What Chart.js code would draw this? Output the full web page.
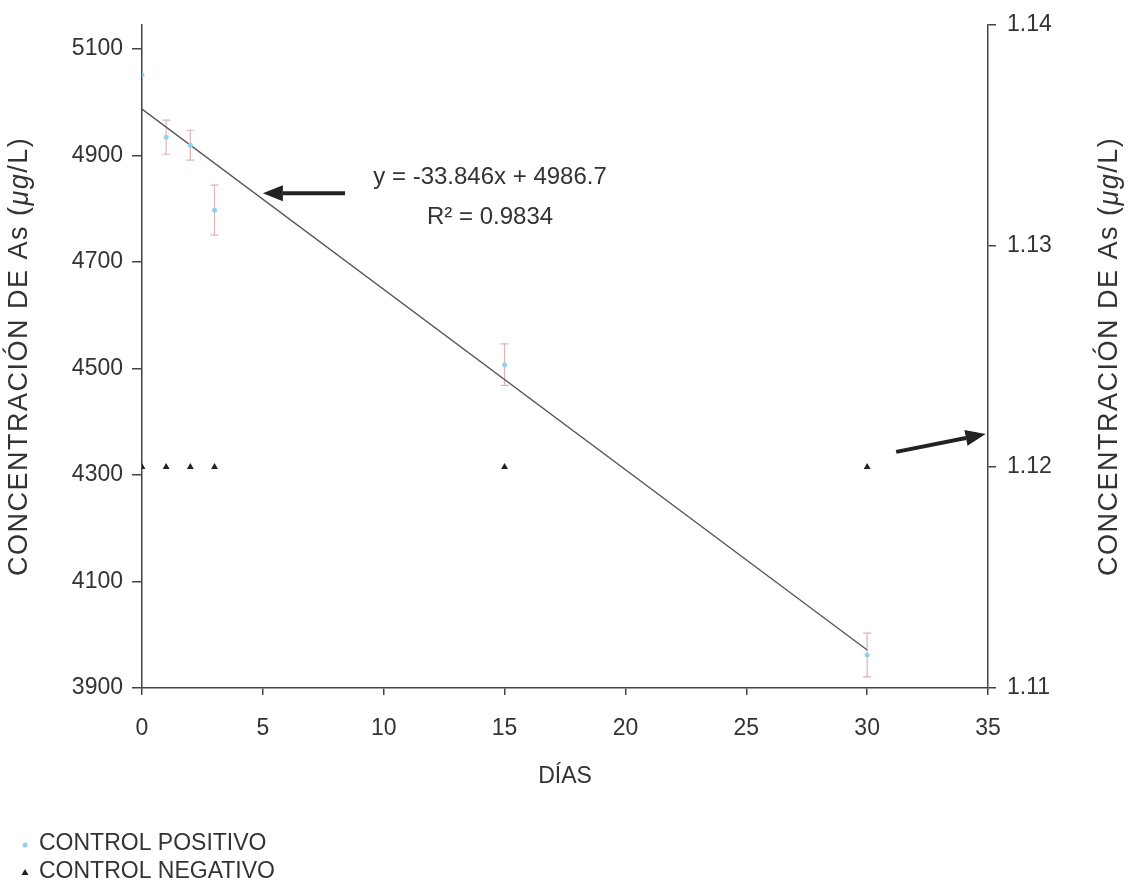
<!DOCTYPE html>
<html>
<head>
<meta charset="utf-8">
<script src="https://cdn.jsdelivr.net/npm/chart.js@4/dist/chart.umd.min.js"></script>
<style>
  html, body { margin: 0; padding: 0; background: #fff; }
  #wrap { width: 1131px; height: 888px; }
</style>
</head>
<body>
<div id="wrap"><canvas id="arsenico" width="1131" height="888"></canvas></div>
<script>
// dias de muestreo
const dias = [0, 1, 2, 3, 15, 30];
// control positivo (ug/L), eje izquierdo
const controlPositivo = [5051, 4934, 4919, 4797, 4507, 3962];
const errorPositivo = [0, 32, 28, 47, 39, 41];
// control negativo (ug/L), eje derecho
const controlNegativo = [1.12, 1.12, 1.12, 1.12, 1.12, 1.12];
// linea de tendencia y = -33.846x + 4986.7
const tendenciaX = [0, 30];
const tendenciaY = [4986.7, 3971.3];
const ecuacion = "y = -33.846x + 4986.7";
const r2 = "R² = 0.9834";

const xTicks = [0, 5, 10, 15, 20, 25, 30, 35];
const yTicks = [3900, 4100, 4300, 4500, 4700, 4900, 5100];
const y2Ticks = [1.11, 1.12, 1.13, 1.14];

const FONT = "'Liberation Sans', Arial, sans-serif";
const TXT = "#333";
const AXIS = "#444";

// flechas y textos, en unidades de datos
const notas = {
  flecha1: { eje: "y", from: [8.4, 4829], to: [5.0, 4829] },
  flecha2: { eje: "y2", from: [31.2, 1.12068], to: [34.9, 1.12149] },
  eq: { x: 14.4, y: 4859 },
  r2: { x: 14.4, y: 4784 },
};

function drawArrow(ctx, x1, y1, x2, y2) {
  const ang = Math.atan2(y2 - y1, x2 - x1);
  const head = 20, wide = 8;
  const bx = x2 - head * Math.cos(ang), by = y2 - head * Math.sin(ang);
  ctx.save();
  ctx.strokeStyle = "#222";
  ctx.fillStyle = "#222";
  ctx.lineWidth = 4;
  ctx.beginPath();
  ctx.moveTo(x1, y1);
  ctx.lineTo(bx, by);
  ctx.stroke();
  ctx.beginPath();
  ctx.moveTo(x2, y2);
  ctx.lineTo(bx + wide * Math.sin(ang), by - wide * Math.cos(ang));
  ctx.lineTo(bx - wide * Math.sin(ang), by + wide * Math.cos(ang));
  ctx.closePath();
  ctx.fill();
  ctx.restore();
}

const errorBars = {
  id: "errorBars",
  beforeDatasetsDraw: (chart) => {
    const ctx = chart.ctx;
    const xs = chart.scales.x, ys = chart.scales.y;
    ctx.save();
    ctx.strokeStyle = "#dcb4b4";
    ctx.lineWidth = 1.2;
    dias.forEach((d, i) => {
      const e = errorPositivo[i];
      if (!e) return;
      const px = xs.getPixelForValue(d);
      const top = ys.getPixelForValue(controlPositivo[i] + e);
      const bot = ys.getPixelForValue(controlPositivo[i] - e);
      ctx.beginPath();
      ctx.moveTo(px, top); ctx.lineTo(px, bot);
      ctx.moveTo(px - 4, top); ctx.lineTo(px + 4, top);
      ctx.moveTo(px - 4, bot); ctx.lineTo(px + 4, bot);
      ctx.stroke();
    });
    ctx.restore();
  },
};

const extras = {
  id: "extras",
  afterDraw: (chart) => {
    const ctx = chart.ctx;
    const xs = chart.scales.x;
    const area = chart.chartArea;

    // flechas
    [notas.flecha1, notas.flecha2].forEach((f) => {
      const s = chart.scales[f.eje];
      drawArrow(ctx,
        xs.getPixelForValue(f.from[0]), s.getPixelForValue(f.from[1]),
        xs.getPixelForValue(f.to[0]), s.getPixelForValue(f.to[1]));
    });

    ctx.save();
    ctx.fillStyle = TXT;
    ctx.textBaseline = "middle";
    ctx.textAlign = "center";
    ctx.font = "24px " + FONT;
    ctx.fillText(ecuacion, xs.getPixelForValue(notas.eq.x), chart.scales.y.getPixelForValue(notas.eq.y));
    ctx.fillText(r2, xs.getPixelForValue(notas.r2.x), chart.scales.y.getPixelForValue(notas.r2.y));

    // titulo eje x
    ctx.font = "23px " + FONT;
    ctx.fillText("DÍAS", (area.left + area.right) / 2, 777);

    // titulos ejes y (ambos leen de abajo hacia arriba)
    const cy = (area.top + area.bottom) / 2;
    [20, 1110].forEach((cx) => {
      ctx.save();
      ctx.translate(cx, cy);
      ctx.rotate(-Math.PI / 2);
      ctx.letterSpacing = "1.5px";
      const parts = [
        ["CONCENTRACIÓN DE As (", "27px " + FONT],
        ["μg", "italic 27px " + FONT],
        ["/L)", "27px " + FONT],
      ];
      let total = 0;
      parts.forEach((p) => { ctx.font = p[1]; total += ctx.measureText(p[0]).width; });
      let x = -total / 2;
      ctx.textAlign = "left";
      parts.forEach((p) => {
        ctx.font = p[1];
        ctx.fillText(p[0], x, 0);
        x += ctx.measureText(p[0]).width;
      });
      ctx.restore();
    });

    // leyenda
    ctx.textAlign = "left";
    ctx.font = "23px " + FONT;
    ctx.fillStyle = "#8fd3ea";
    ctx.beginPath();
    ctx.arc(25, 845, 2.5, 0, Math.PI * 2);
    ctx.fill();
    ctx.fillStyle = "#222";
    ctx.beginPath();
    ctx.moveTo(25, 869); ctx.lineTo(28.5, 875); ctx.lineTo(21.5, 875);
    ctx.closePath();
    ctx.fill();
    ctx.fillStyle = TXT;
    ctx.fillText("CONTROL POSITIVO", 39, 844);
    ctx.fillText("CONTROL NEGATIVO", 39, 872);
    ctx.restore();
  },
};

const gridOpts = (len) => ({
  drawOnChartArea: false,
  drawTicks: true,
  tickLength: len,
  tickColor: AXIS,
  lineWidth: 1.5,
});

const ctx = document.getElementById("arsenico").getContext("2d");
const chart = new Chart(ctx, {
  type: "scatter",
  data: {
    datasets: [
      {
        label: "CONTROL POSITIVO",
        data: dias.map((d, i) => ({ x: d, y: controlPositivo[i] })),
        yAxisID: "y",
        pointRadius: 2.5,
        pointBackgroundColor: "#8fd3ea",
        pointBorderWidth: 0,
      },
      {
        label: "CONTROL NEGATIVO",
        data: dias.map((d, i) => ({ x: d, y: controlNegativo[i] })),
        yAxisID: "y2",
        pointStyle: "triangle",
        pointRadius: 4,
        pointBackgroundColor: "#222",
        pointBorderWidth: 0,
      },
      {
        type: "line",
        label: "Tendencia",
        data: tendenciaX.map((d, i) => ({ x: d, y: tendenciaY[i] })),
        yAxisID: "y",
        borderColor: "#555",
        borderWidth: 1.3,
        pointRadius: 0,
        fill: false,
      },
    ],
  },
  plugins: [errorBars, extras],
  options: {
    responsive: false,
    animation: false,
    devicePixelRatio: 1,
    layout: { padding: { top: 22, left: 0, right: 0, bottom: 0 } },
    plugins: {
      legend: { display: false },
      tooltip: { enabled: false },
    },
    scales: {
      x: {
        type: "linear",
        min: 0,
        max: 35,
        afterBuildTicks: (s) => { s.ticks = xTicks.map((v) => ({ value: v })); },
        afterFit: (s) => { s.height = 200; },
        grid: gridOpts(7),
        border: { display: true, color: AXIS, width: 1.5 },
        ticks: { color: TXT, font: { family: FONT, size: 23 }, padding: 20, callback: (v) => String(v) },
      },
      y: {
        position: "left",
        min: 3900,
        max: 5145,
        afterBuildTicks: (s) => { s.ticks = yTicks.map((v) => ({ value: v })); },
        afterFit: (s) => { s.width = 142; },
        grid: gridOpts(10),
        border: { display: true, color: AXIS, width: 1.5 },
        ticks: { color: TXT, font: { family: FONT, size: 23 }, padding: 9, callback: (v) => String(v) },
      },
      y2: {
        position: "right",
        min: 1.11,
        max: 1.14,
        afterBuildTicks: (s) => { s.ticks = y2Ticks.map((v) => ({ value: v })); },
        afterFit: (s) => { s.width = 143; },
        grid: gridOpts(8),
        border: { display: true, color: AXIS, width: 1.5 },
        ticks: {
          color: TXT,
          font: { family: FONT, size: 23 },
          padding: 11,
          callback: (v) => v.toFixed(2),
        },
      },
    },
  },
});
</script>
</body>
</html>
